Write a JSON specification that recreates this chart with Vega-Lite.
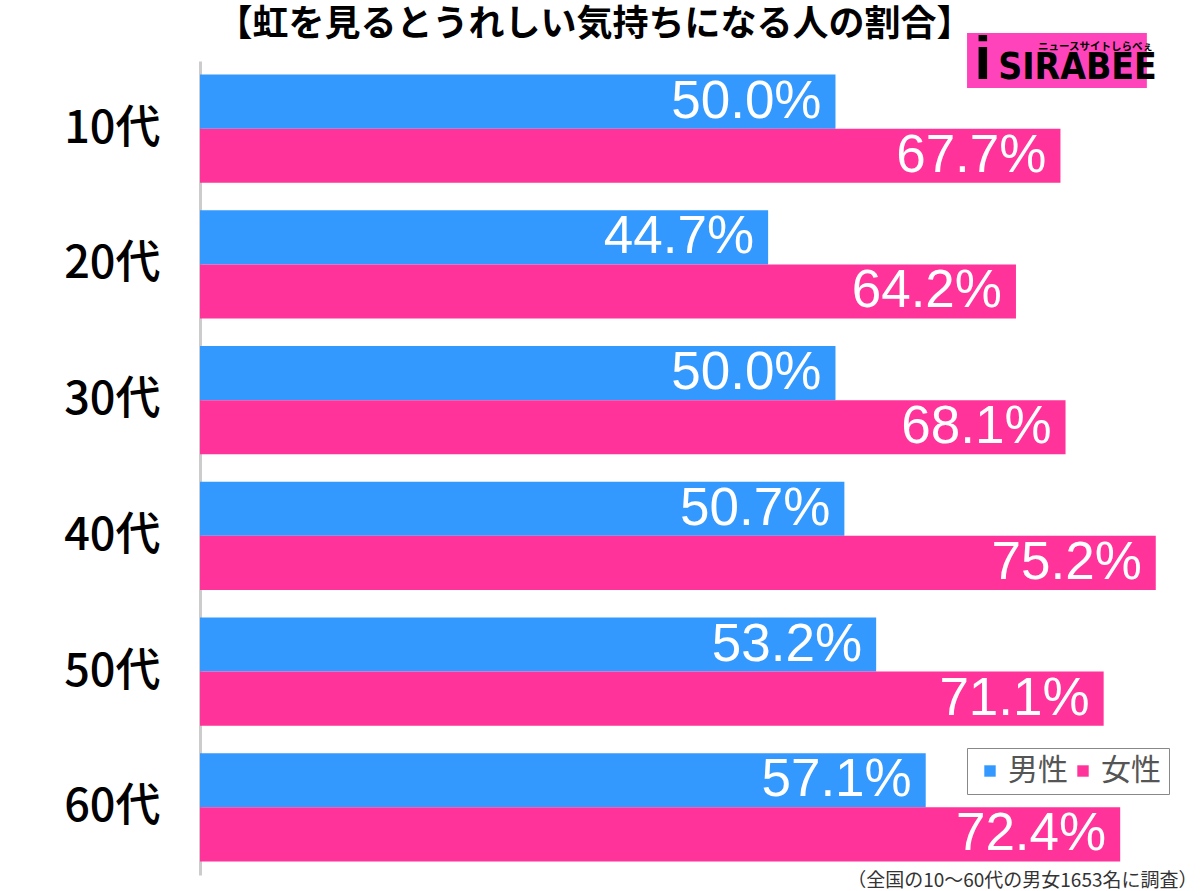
{
  "$schema": "https://vega.github.io/schema/vega-lite/v6.json",
  "autosize": "none",
  "width": 985,
  "height": 814,
  "padding": {"left": 200, "top": 61, "right": 15, "bottom": 16},
  "background": "white",
  "title": {
    "text": "【虹を見るとうれしい気持ちになる人の割合】",
    "font": "Noto Sans CJK JP",
    "fontSize": 36,
    "fontWeight": "bold",
    "color": "#000",
    "anchor": "middle",
    "dx": -98,
    "dy": 27,
    "offset": 12
  },
  "config": {
    "view": {"stroke": null},
    "font": "Noto Sans CJK JP"
  },
  "datasets": {
    "main": [
      {"age": "10代", "gender": "男性", "value": 0.500},
      {"age": "10代", "gender": "女性", "value": 0.677},
      {"age": "20代", "gender": "男性", "value": 0.447},
      {"age": "20代", "gender": "女性", "value": 0.642},
      {"age": "30代", "gender": "男性", "value": 0.500},
      {"age": "30代", "gender": "女性", "value": 0.681},
      {"age": "40代", "gender": "男性", "value": 0.507},
      {"age": "40代", "gender": "女性", "value": 0.752},
      {"age": "50代", "gender": "男性", "value": 0.532},
      {"age": "50代", "gender": "女性", "value": 0.711},
      {"age": "60代", "gender": "男性", "value": 0.571},
      {"age": "60代", "gender": "女性", "value": 0.724}
    ]
  },
  "resolve": {"scale": {"y": "independent"}, "axis": {"y": "independent"}},
  "layer": [
    {
      "data": {"name": "main"},
      "layer": [
        {
          "mark": {"type": "bar", "cornerRadius": 0},
          "encoding": {
            "y": {
              "field": "age", "type": "nominal",
              "sort": ["10代", "20代", "30代", "40代", "50代", "60代"],
              "scale": {"paddingInner": 0.2035, "paddingOuter": 0.1},
              "axis": {
                "title": null, "ticks": false, "labelPadding": 40,
                "labelFontSize": 45, "labelColor": "#000", "labelFont": "Noto Sans CJK JP",
                "labelFontWeight": 500,
                "domainColor": "#cccccc", "domainWidth": 3
              }
            },
            "yOffset": {
              "field": "gender", "type": "nominal",
              "sort": ["男性", "女性"]
            },
            "x": {
              "field": "value", "type": "quantitative",
              "scale": {"domain": [0, 0.775], "nice": false},
              "axis": {
                "labels": false, "ticks": false, "domain": false, "grid": false,
                "title": "（全国の10〜60代の男女1653名に調査）",
                "titleX": 997, "titleAlign": "right", "titleFontSize": 19, "titleFontWeight": "normal",
                "titleColor": "#333", "titleFont": "Noto Sans CJK JP",
                "titlePadding": 5, "titleBaseline": "middle"
              }
            },
            "color": {
              "field": "gender", "type": "nominal",
              "scale": {"domain": ["男性", "女性"], "range": ["#3399ff", "#ff3399"]},
              "legend": {
                "title": null, "orient": "none", "legendX": 767, "legendY": 687,
                "direction": "horizontal", "symbolType": "square", "symbolSize": 130,
                "symbolStrokeWidth": 0, "labelFontSize": 30, "labelColor": "#555",
                "labelFont": "Noto Sans CJK JP", "strokeColor": "#888", "padding": 8,
                "columnPadding": 0, "labelOffset": 3
              }
            }
          }
        },
        {
          "mark": {"type": "text", "align": "right", "baseline": "middle", "dx": -14, "color": "white", "font": "Liberation Sans", "fontSize": 53},
          "encoding": {
            "y": {"field": "age", "type": "nominal", "sort": ["10代", "20代", "30代", "40代", "50代", "60代"]},
            "yOffset": {"field": "gender", "type": "nominal", "sort": ["男性", "女性"]},
            "x": {"field": "value", "type": "quantitative"},
            "text": {"field": "value", "type": "quantitative", "format": ".1%"}
          }
        }
      ]
    },
    {
      "data": {"values": [{}]},
      "layer": [
        {
          "mark": {"type": "rect", "color": "#ff44bb"},
          "encoding": {
            "x": {"datum": 0.6035, "type": "quantitative"},
            "x2": {"datum": 0.745},
            "y": {"datum": -0.206, "type": "quantitative", "scale": {"domain": [0, 6], "reverse": true, "nice": false, "zero": false}, "axis": null},
            "y2": {"datum": 0.199}
          }
        },
        {
          "mark": {"type": "text", "text": "SIRABEE", "font": "DejaVu Sans Condensed", "fontWeight": "bold", "fontSize": 37, "color": "#000", "align": "center", "baseline": "middle"},
          "encoding": {
            "x": {"datum": 0.6904, "type": "quantitative"},
            "y": {"datum": 0.055, "type": "quantitative"}
          }
        },
        {
          "mark": {"type": "text", "text": "ニュースサイトしらべぇ", "font": "Noto Sans CJK JP", "fontWeight": "bold", "fontSize": 10.5, "color": "#000", "align": "center", "baseline": "middle"},
          "encoding": {
            "x": {"datum": 0.7045, "type": "quantitative"},
            "y": {"datum": -0.106, "type": "quantitative"}
          }
        },
        {
          "mark": {"type": "text", "text": "i", "font": "Liberation Sans", "fontWeight": "bold", "fontSize": 62, "color": "#000", "align": "center", "baseline": "middle"},
          "encoding": {
            "x": {"datum": 0.616, "type": "quantitative"},
            "y": {"datum": -0.007, "type": "quantitative"}
          }
        }
      ]
    }
  ]
}
